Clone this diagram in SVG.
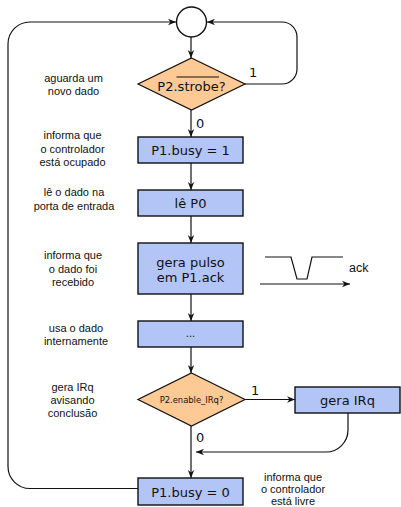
<svg xmlns="http://www.w3.org/2000/svg" width="401" height="507" viewBox="0 0 401 507">
<style>
.box{fill:#b3c4f7;stroke:#111;stroke-width:1.4}
.dia{fill:#fdc994;stroke:#111;stroke-width:1.2}
.t{font-family:"DejaVu Sans",sans-serif;font-size:13px;fill:#111;text-anchor:middle}
.lbl{font-family:"Liberation Sans",Arial,sans-serif;font-size:11px;fill:#111;text-anchor:middle}
.num{font-family:"DejaVu Sans",sans-serif;font-size:13px;fill:#111}
.c{fill:none;stroke:#111;stroke-width:1.2}
</style>
<defs>
<marker id="ah" viewBox="0 0 10 10" refX="10" refY="5" markerWidth="8" markerHeight="8" markerUnits="userSpaceOnUse" orient="auto">
<path d="M0,1 L10,5 L0,9 L3,5 Z" fill="#111"/>
</marker>
</defs>
<rect width="401" height="507" fill="#fff"/>

<g id="connectors">
<line class="c" x1="191" y1="37" x2="191" y2="58" marker-end="url(#ah)"/>
<path class="c" d="M245,84 H282 A15,15 0 0 0 297,69 V37 A15,15 0 0 0 282,22 H207" marker-end="url(#ah)"/>
<line class="c" x1="191" y1="110" x2="191" y2="137" marker-end="url(#ah)"/>
<line class="c" x1="191" y1="163" x2="191" y2="190" marker-end="url(#ah)"/>
<line class="c" x1="191" y1="216" x2="191" y2="243" marker-end="url(#ah)"/>
<line class="c" x1="191" y1="294" x2="191" y2="321" marker-end="url(#ah)"/>
<line class="c" x1="191" y1="347" x2="191" y2="373" marker-end="url(#ah)"/>
<line class="c" x1="245" y1="399.5" x2="295" y2="399.5" marker-end="url(#ah)" stroke="#333"/>
<path class="c" d="M348,413 V430 A22,22 0 0 1 326,452 H196" marker-end="url(#ah)" stroke="#333"/>
<line class="c" x1="191" y1="426" x2="191" y2="478" marker-end="url(#ah)"/>
<path class="c" d="M138,488.5 H30 A22,22 0 0 1 8,466.5 V44 A22,22 0 0 1 30,22 H176" marker-end="url(#ah)"/>
<text class="num" x="249" y="77">1</text>
<text class="num" x="196" y="128">0</text>
<text class="num" x="251" y="395">1</text>
<text class="num" x="196" y="442">0</text>
</g>

<g id="start">
<circle cx="191.5" cy="22" r="15" fill="#fff" stroke="#111" stroke-width="1.4"/>
</g>

<g id="wait-strobe">
<polygon class="dia" points="191.5,58 245,84 191.5,110 138,84"/>
<text class="t" x="191.5" y="90.5">P2.strobe?</text>
<line x1="176.5" y1="77" x2="219" y2="77" stroke="#111" stroke-width="1"/>
</g>

<g id="busy1">
<rect class="box" x="138" y="137" width="105" height="26"/>
<text class="t" x="190.5" y="155">P1.busy = 1</text>
</g>

<g id="read-p0">
<rect class="box" x="138" y="190" width="105" height="26"/>
<text class="t" x="190.5" y="208">lê P0</text>
</g>

<g id="ack-pulse">
<rect class="box" x="138" y="243" width="105" height="51"/>
<text class="t" x="190.5" y="266.5">gera pulso</text>
<text class="t" x="190.5" y="281.5">em P1.ack</text>
</g>

<g id="use-data">
<rect class="box" x="138" y="321" width="105" height="26"/>
<text class="t" x="190.5" y="337" style="font-size:10px">...</text>
</g>

<g id="enable-irq">
<polygon class="dia" points="191.5,373 245,399.5 191.5,426 138,399.5"/>
<text class="t" x="191.5" y="402.5" style="font-size:8.4px">P2.enable_IRq?</text>
</g>

<g id="gen-irq">
<rect class="box" x="295" y="387" width="105" height="26"/>
<text class="t" x="347.5" y="405">gera IRq</text>
</g>

<g id="busy0">
<rect class="box" x="138" y="478" width="105" height="27"/>
<text class="t" x="190.5" y="497">P1.busy = 0</text>
</g>

<g id="ack-waveform">
<path d="M265,257 H291 L297,279 H307 L312,257 H343" fill="none" stroke="#111" stroke-width="1.2"/>
<line class="c" x1="260" y1="284" x2="350" y2="284" marker-end="url(#ah)"/>
<text x="349" y="272" style="font-family:'Liberation Sans',Arial,sans-serif;font-size:12.5px;fill:#111">ack</text>
</g>

<g id="labels">
<text class="lbl" x="73.5" y="82">aguarda um</text>
<text class="lbl" x="73.5" y="95">novo dado</text>
<text class="lbl" x="72.5" y="139">informa que</text>
<text class="lbl" x="72.5" y="152.5">o controlador</text>
<text class="lbl" x="72.5" y="166">está ocupado</text>
<text class="lbl" x="74" y="196">lê o dado na</text>
<text class="lbl" x="74" y="210">porta de entrada</text>
<text class="lbl" x="73" y="259">informa que</text>
<text class="lbl" x="73" y="272.5">o dado foi</text>
<text class="lbl" x="73" y="286">recebido</text>
<text class="lbl" x="76" y="331.5">usa o dado</text>
<text class="lbl" x="76" y="344.5">internamente</text>
<text class="lbl" x="72.5" y="390.5">gera IRq</text>
<text class="lbl" x="72.5" y="403.5">avisando</text>
<text class="lbl" x="72.5" y="416.5">conclusão</text>
<text class="lbl" x="293" y="481">informa que</text>
<text class="lbl" x="293" y="493">o controlador</text>
<text class="lbl" x="293" y="505">está livre</text>
</g>
</svg>
